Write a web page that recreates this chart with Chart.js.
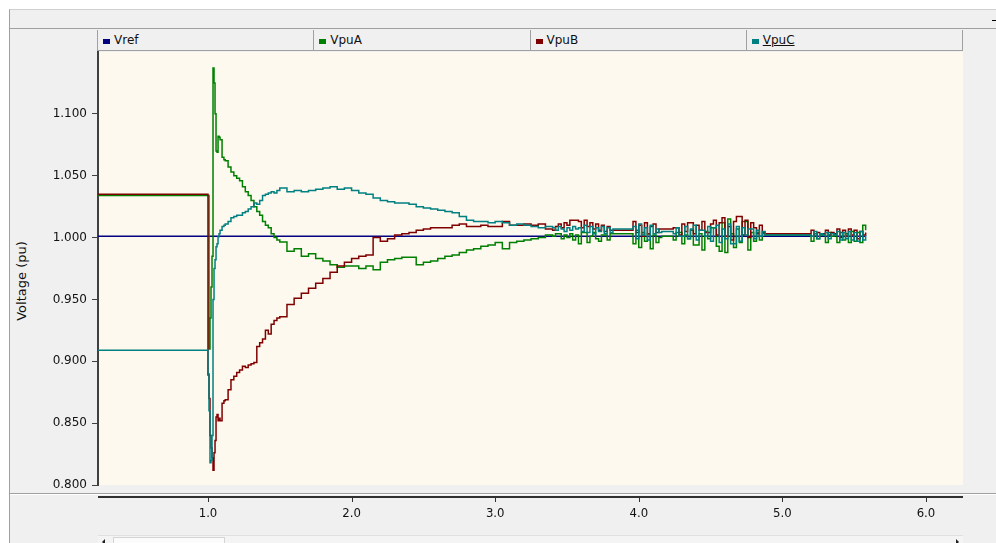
<!DOCTYPE html>
<html>
<head>
<meta charset="utf-8">
<title>Voltage (pu)</title>
<script src="https://cdn.jsdelivr.net/npm/chart.js@4.4.1/dist/chart.umd.min.js"></script>
<style>
	html, body { margin: 0; padding: 0; background: #ffffff; }
	#wrap { position: relative; width: 996px; height: 543px; overflow: hidden; font-family: 'DejaVu Sans', sans-serif; }
	#frame { position: absolute; left: 9px; top: 9px; right: 0; bottom: 0; background: #f0f0f0; border-left: 1px solid #a0a0a0; border-top: 1px solid #d0d0d0; }
	#toolbarline { position: absolute; left: 10px; right: 0; top: 28px; height: 1px; background: #a0a0a0; }
	#dash { position: absolute; left: 992px; top: 20px; width: 4px; height: 1px; background: #000; }
	#legend { position: absolute; left: 97px; top: 30px; height: 21px; width: 866px; display: flex; border-left: 1px solid #a0a0a0; border-bottom: 1px solid #a0a0a0; box-sizing: border-box; }
	#legend .cell { flex: 1; position: relative; border-right: 1px solid #a0a0a0; font-size: 12px; color: #111; line-height: 21px; }
	#legend .mark { position: absolute; left: 5px; top: 9px; width: 7px; height: 5px; }
	#legend .txt { position: absolute; left: 16px; top: 0; }
	#sep { position: absolute; left: 10px; right: 0; top: 493px; height: 1px; background: #a0a0a0; }
	#sep2 { position: absolute; left: 10px; right: 0; top: 494px; height: 1px; background: #ffffff; }
	#ytitle { position: absolute; left: 21px; top: 281px; transform: translate(-50%, -50%) rotate(-90deg); font-size: 13px; color: #111; white-space: nowrap; }
	#scroll { position: absolute; left: 98px; top: 535px; width: 865px; height: 8px; background: #f4f4f4; border-top: 1px solid #e0e0e0; }
	#thumb { position: absolute; left: 15px; top: 1px; width: 112px; height: 8px; background: #fbfbfb; border: 1px solid #d4d4d4; box-sizing: border-box; }
	.arrow { position: absolute; top: 3px; width: 0; height: 0; border-top: 3px solid transparent; border-bottom: 3px solid transparent; }
	#aleft { left: 4px; border-right: 3px solid #222; }
	#aright { right: 4px; border-left: 3px solid #222; }
	canvas { position: absolute; left: 0; top: 0; }
</style>
</head>
<body>
<div id="wrap">
	<div id="frame"></div>
	<div id="toolbarline"></div>
	<div id="dash"></div>
	<div id="legend"></div>
	<div id="sep"></div>
	<div id="sep2"></div>
	<div id="ytitle">Voltage (pu)</div>
	<div id="scroll"><div id="aleft" class="arrow"></div><div id="thumb"></div><div id="aright" class="arrow"></div></div>
	<canvas id="voltcanvas" width="996" height="543"></canvas>
</div>
<script>
// sample times (s), shared by the three phase traces
const time = [
	0,
	1.000, 1.007, 1.014, 1.021, 1.028, 1.035, 1.042, 1.049, 1.056, 1.063, 1.070, 1.077, 1.084, 1.098, 1.111,
	1.12, 1.14, 1.16, 1.18, 1.20, 1.22, 1.24, 1.26, 1.28, 1.30, 1.32, 1.34, 1.36, 1.38, 1.40, 1.42, 1.44, 1.46, 1.48, 1.50,
	1.55, 1.60, 1.65, 1.70, 1.75, 1.80, 1.85, 1.90, 1.95, 2.00, 2.05, 2.10, 2.15, 2.20, 2.25, 2.30, 2.35, 2.40, 2.45, 2.50,
	2.55, 2.60, 2.65, 2.70, 2.75, 2.80, 2.85, 2.90, 2.95, 3.00, 3.05, 3.10, 3.15, 3.20, 3.25, 3.30, 3.35,
	3.40, 3.42, 3.44, 3.46, 3.48, 3.50, 3.52, 3.54, 3.56, 3.58, 3.60, 3.62, 3.64, 3.66, 3.68, 3.70, 3.72, 3.74, 3.76, 3.78, 3.80, 3.82,
	3.96, 3.98, 4.00, 4.02, 4.04, 4.06, 4.08, 4.10, 4.12, 4.14,
	4.16,
	4.24, 4.26, 4.28, 4.30, 4.32, 4.34, 4.36, 4.38, 4.40, 4.42, 4.44, 4.46, 4.48, 4.50, 4.52, 4.54, 4.56, 4.58, 4.60, 4.62,
	4.64, 4.66, 4.68, 4.70, 4.72, 4.74, 4.76, 4.78, 4.80, 4.82, 4.84, 4.86, 4.88,
	5.20, 5.22, 5.24, 5.26, 5.28, 5.30, 5.32, 5.34, 5.36, 5.38, 5.40, 5.42, 5.44, 5.46, 5.48, 5.50, 5.52, 5.54, 5.56, 5.58
];

const vpuA = [
	1.034,
	1.034, 0.910, 0.935, 0.960, 0.985, 1.137, 1.125, 1.100, 1.070, 1.069, 1.082, 1.081, 1.079, 1.065, 1.063,
	1.062, 1.057, 1.053, 1.050, 1.048, 1.046, 1.041, 1.037, 1.034, 1.030, 1.025, 1.021, 1.018, 1.013, 1.010, 1.008, 1.003, 1.000, 0.998, 0.9965,
	0.989, 0.991, 0.985, 0.987, 0.983, 0.981, 0.978, 0.976, 0.977, 0.977, 0.975, 0.977, 0.974, 0.980, 0.982, 0.983, 0.984, 0.984, 0.978, 0.980,
	0.981, 0.983, 0.985, 0.986, 0.988, 0.990, 0.991, 0.993, 0.994, 0.996, 0.991, 0.996, 0.997, 0.998, 0.999, 1.000, 1.002,
	1.001, 1.003, 1.003, 0.999, 1.002, 1.000, 1.003, 0.998, 1.002, 0.995, 1.004, 1.004, 0.996, 1.001, 1.004, 0.999, 0.997, 1.002, 1.002, 0.998, 1.003, 1.003,
	0.995, 1.006, 0.992, 1.004, 0.997, 1.003, 0.991, 1.002, 0.996, 1.000,
	1.001,
	0.998, 1.004, 1.004, 0.995, 1.002, 0.999, 1.006, 0.994, 0.994, 1.003, 0.990, 1.005, 0.999, 1.008, 1.008, 0.993, 0.989, 1.012, 0.988, 1.015,
	1.003, 0.992, 1.007, 0.996, 1.013, 1.013, 0.990, 1.004, 0.997, 1.004, 0.998, 1.003, 1.002,
	0.997, 1.003, 0.999, 1.002, 1.002, 0.996, 1.004, 1.001, 1.002, 0.996, 1.004, 0.998, 1.003, 0.996, 1.005, 0.997, 1.004, 0.996, 1.010, 1.006
];

const vpuB = [
	1.035,
	0.889, 0.870, 0.840, 0.830, 0.822, 0.812, 0.826, 0.836, 0.855, 0.857, 0.852, 0.854, 0.852, 0.866, 0.868,
	0.869, 0.877, 0.885, 0.888, 0.891, 0.893, 0.896, 0.895, 0.897, 0.898, 0.899, 0.912, 0.915, 0.918, 0.925, 0.922, 0.930, 0.933, 0.935, 0.936,
	0.946, 0.951, 0.955, 0.959, 0.963, 0.967, 0.972, 0.977, 0.980, 0.983, 0.985, 0.986, 1.000, 0.997, 0.999, 1.002, 1.003, 1.004, 1.006, 1.007,
	1.008, 1.008, 1.008, 1.010, 1.011, 1.009, 1.009, 1.010, 1.009, 1.009, 1.013, 1.010, 1.010, 1.011, 1.010, 1.011, 1.007,
	1.006, 1.009, 1.011, 1.008, 1.012, 1.010, 1.014, 1.014, 1.014, 1.013, 1.008, 1.014, 1.009, 1.012, 1.007, 1.011, 1.006, 1.010, 1.005, 1.009, 1.006, 1.006,
	1.013, 1.004, 1.010, 1.001, 1.012, 1.003, 1.009, 1.011, 1.004, 1.007,
	1.007,
	1.008, 1.008, 1.002, 1.011, 1.005, 1.012, 1.012, 1.003, 1.010, 1.006, 1.013, 1.004, 1.004, 1.011, 1.014, 1.002, 1.012, 1.016, 1.001, 1.009,
	0.998, 1.013, 1.017, 1.017, 1.002, 1.014, 1.000, 1.012, 1.008, 1.003, 1.010, 1.004, 1.003,
	1.006, 1.001, 1.004, 1.003, 1.003, 1.006, 1.002, 1.004, 1.003, 1.007, 1.000, 1.006, 1.001, 1.007, 1.002, 1.006, 0.999, 1.005, 1.002, 1.004
];

const vpuC = [
	0.909,
	0.890, 0.860, 0.818, 0.820, 0.840, 0.950, 0.975, 0.982, 0.9925, 0.995, 1.0006, 1.003, 1.006, 1.009, 1.010,
	1.011, 1.013, 1.016, 1.017, 1.018, 1.018, 1.020, 1.021, 1.023, 1.025, 1.028, 1.027, 1.030, 1.034, 1.035, 1.036, 1.037, 1.036, 1.038, 1.040,
	1.037, 1.038, 1.037, 1.038, 1.039, 1.040, 1.041, 1.039, 1.040, 1.038, 1.036, 1.035, 1.032, 1.030, 1.029, 1.028, 1.028, 1.027, 1.025, 1.024,
	1.023, 1.022, 1.021, 1.020, 1.017, 1.014, 1.013, 1.013, 1.012, 1.013, 1.012, 1.010, 1.011, 1.010, 1.009, 1.008, 1.009,
	1.008, 1.006, 1.009, 1.007, 1.005, 1.008, 1.006, 1.009, 1.007, 1.008, 1.005, 1.010, 1.004, 1.009, 1.003, 1.008, 1.005, 1.009, 1.003, 1.008, 1.004, 1.007,
	1.009, 0.999, 1.011, 1.002, 1.008, 0.998, 1.010, 1.003, 1.007, 1.004,
	1.005,
	1.003, 1.008, 1.001, 1.001, 1.009, 0.999, 1.007, 1.010, 0.998, 1.006, 1.006, 1.001, 1.009, 0.997, 1.008, 1.010, 0.996, 1.007, 0.999, 1.011,
	0.995, 0.995, 1.009, 0.997, 1.008, 1.002, 1.007, 1.007, 0.999, 1.006, 1.001, 1.005, 1.002,
	1.001, 1.005, 0.999, 1.003, 1.002, 1.004, 0.999, 1.003, 1.002, 1.005, 0.998, 1.004, 0.999, 1.005, 0.998, 1.004, 0.997, 1.005, 0.998, 1.002
];

// reference setpoint
const vrefTime = [0, 5.58];
const vref = [1.001, 1.001];

const seriesNames = ['Vref', 'VpuA', 'VpuB', 'VpuC'];
const yTicks = [0.800, 0.850, 0.900, 0.950, 1.000, 1.050, 1.100];
const xTicks = [1.0, 2.0, 3.0, 4.0, 5.0, 6.0];

function toPoints(xs, ys){
	return xs.map(function(x, i){ return {x: x, y: ys[i]}; });
}

document.addEventListener('DOMContentLoaded', function(event) {
	const fontFamily = 'DejaVu Sans';
	const narrowFamily = "'Liberation Sans Narrow', 'DejaVu Sans Condensed', sans-serif";
	const colors = ['#000080', '#008000', '#800000', '#008080'];

	// cream plot background
	const plotBg = {
		id: 'plotBg',
		beforeDraw: function(chart){
			const a = chart.chartArea;
			const ctx = chart.ctx;
			ctx.save();
			ctx.fillStyle = '#fdf9ee';
			ctx.fillRect(a.left, a.top, a.right - a.left, a.bottom - a.top);
			ctx.restore();
		}
	};

	// x axis line sits a bit below the plot, like the original window
	const xAxisLine = {
		id: 'xAxisLine',
		afterDraw: function(chart){
			const a = chart.chartArea;
			const ctx = chart.ctx;
			const xs = chart.scales.x;
			const y = a.bottom + 12;
			ctx.save();
			ctx.strokeStyle = '#303030';
			ctx.lineWidth = 2;
			ctx.beginPath();
			ctx.moveTo(a.left, y);
			ctx.lineTo(a.right, y);
			ctx.stroke();
			ctx.lineWidth = 1;
			xs.ticks.forEach(function(t){
				const px = Math.round(xs.getPixelForValue(t.value)) + 0.5;
				ctx.beginPath();
				ctx.moveTo(px, y);
				ctx.lineTo(px, y + 5);
				ctx.stroke();
			});
			ctx.restore();
		}
	};

	const chart = new Chart(
		document.getElementById('voltcanvas'),
		{
			type: 'line',
			data: {
				datasets: [
					{label: seriesNames[0], data: toPoints(vrefTime, vref), borderColor: colors[0], order: 4},
					{label: seriesNames[1], data: toPoints(time, vpuA), borderColor: colors[1], order: 3},
					{label: seriesNames[2], data: toPoints(time, vpuB), borderColor: colors[2], order: 2},
					{label: seriesNames[3], data: toPoints(time, vpuC), borderColor: colors[3], order: 1}
				]
			},
			options: {
				responsive: false,
				animation: false,
				devicePixelRatio: 1,
				layout: {
					padding: {left: 0, right: 33, top: 52, bottom: 0}
				},
				elements: {
					line: {borderWidth: 1.5, stepped: true, tension: 0, fill: false},
					point: {radius: 0, hoverRadius: 0}
				},
				plugins: {
					legend: {display: false},
					title: {display: false},
					tooltip: {enabled: false}
				},
				scales: {
					x: {
						type: 'linear',
						min: 0.234,
						max: 6.258,
						grid: {display: false},
						border: {display: false},
						ticks: {
							autoSkip: false,
							maxRotation: 0,
							padding: 13,
							color: '#111',
							font: {family: narrowFamily, size: 13},
							callback: function(v){ return v.toFixed(1); }
						},
						afterBuildTicks: function(s){ s.ticks = xTicks.map(function(v){ return {value: v}; }); },
						afterFit: function(s){ s.height = 58; }
					},
					y: {
						min: 0.8,
						max: 1.150,
						grid: {drawOnChartArea: false, drawTicks: true, tickLength: 6, color: '#404040'},
						border: {display: true, color: '#404040', width: 2},
						ticks: {
							padding: 5,
							color: '#111',
							font: {family: fontFamily, size: 12},
							callback: function(v){ return v.toFixed(3); }
						},
						afterBuildTicks: function(s){ s.ticks = yTicks.map(function(v){ return {value: v}; }); },
						afterFit: function(s){ s.width = 98; }
					}
				}
			},
			plugins: [plotBg, xAxisLine]
		}
	);

	// header legend built from the datasets
	const legend = document.getElementById('legend');
	chart.data.datasets.forEach(function(ds, i){
		const cell = document.createElement('div');
		cell.className = 'cell';
		const mark = document.createElement('div');
		mark.className = 'mark';
		mark.style.background = ds.borderColor;
		const txt = document.createElement('span');
		txt.className = 'txt';
		txt.textContent = ds.label;
		if(i === chart.data.datasets.length - 1){
			txt.style.textDecoration = 'underline';
		}
		cell.appendChild(mark);
		cell.appendChild(txt);
		legend.appendChild(cell);
	});
});
</script>
</body>
</html>
